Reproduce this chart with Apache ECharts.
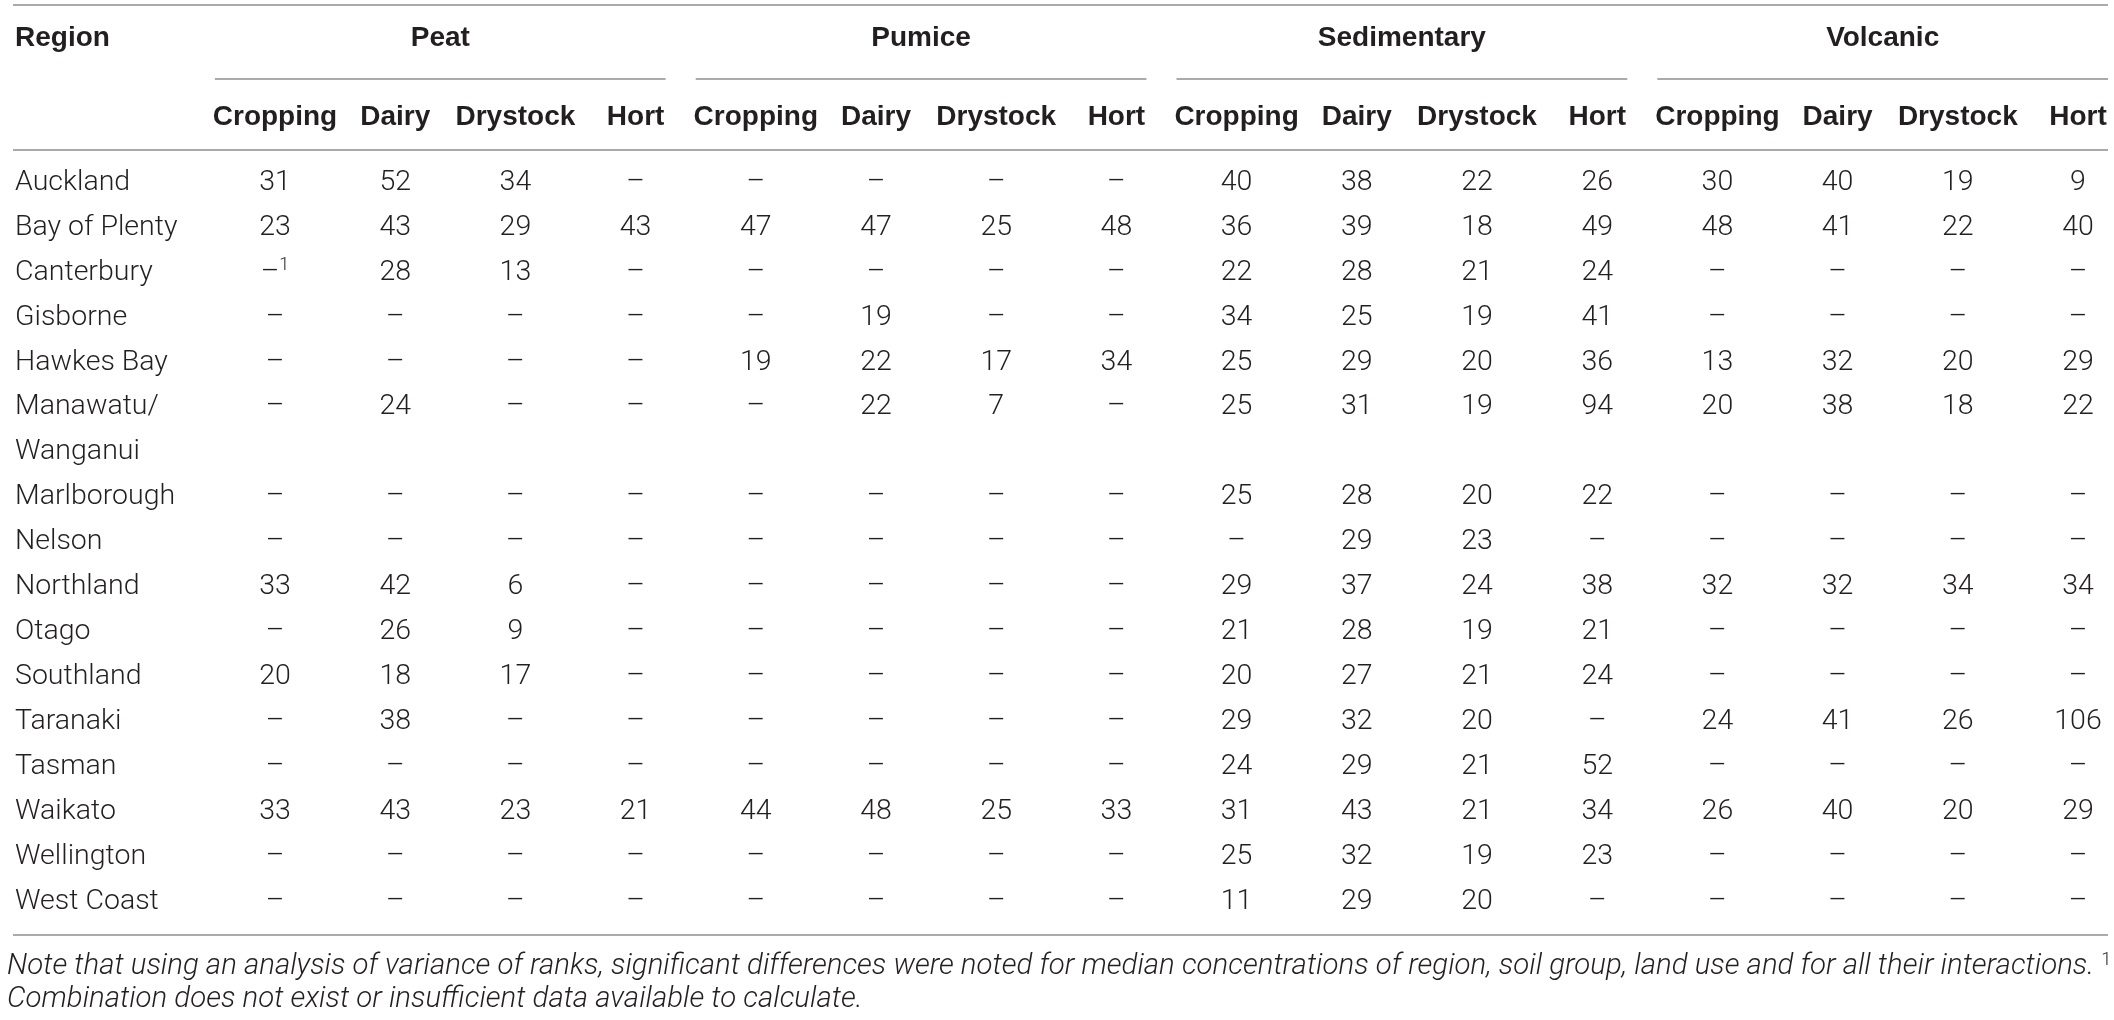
<!DOCTYPE html>
<html>
<head>
<meta charset="utf-8">
<script src="https://cdn.jsdelivr.net/npm/echarts@6/dist/echarts.min.js"></script>
<style>
html,body{margin:0;padding:0;background:#fff;}
#chart{width:2114px;height:1020px;}
</style>
</head>
<body>
<div id="chart"></div>
<script>
// ---------- data ----------
const soilGroups = ['Peat', 'Pumice', 'Sedimentary', 'Volcanic'];
const landUses = ['Cropping', 'Dairy', 'Drystock', 'Hort'];
const regions = ['Auckland', 'Bay of Plenty', 'Canterbury', 'Gisborne', 'Hawkes Bay',
  'Manawatu/\nWanganui', 'Marlborough', 'Nelson', 'Northland', 'Otago', 'Southland',
  'Taranaki', 'Tasman', 'Waikato', 'Wellington', 'West Coast'];
// values per soil group: [Cropping, Dairy, Drystock, Hort]; null = no data (–)
const peat = [
  [31, 52, 34, null], [23, 43, 29, 43], [null, 28, 13, null], [null, null, null, null],
  [null, null, null, null], [null, 24, null, null], [null, null, null, null], [null, null, null, null],
  [33, 42, 6, null], [null, 26, 9, null], [20, 18, 17, null], [null, 38, null, null],
  [null, null, null, null], [33, 43, 23, 21], [null, null, null, null], [null, null, null, null]
];
const pumice = [
  [null, null, null, null], [47, 47, 25, 48], [null, null, null, null], [null, 19, null, null],
  [19, 22, 17, 34], [null, 22, 7, null], [null, null, null, null], [null, null, null, null],
  [null, null, null, null], [null, null, null, null], [null, null, null, null], [null, null, null, null],
  [null, null, null, null], [44, 48, 25, 33], [null, null, null, null], [null, null, null, null]
];
const sedimentary = [
  [40, 38, 22, 26], [36, 39, 18, 49], [22, 28, 21, 24], [34, 25, 19, 41],
  [25, 29, 20, 36], [25, 31, 19, 94], [25, 28, 20, 22], [null, 29, 23, null],
  [29, 37, 24, 38], [21, 28, 19, 21], [20, 27, 21, 24], [29, 32, 20, null],
  [24, 29, 21, 52], [31, 43, 21, 34], [25, 32, 19, 23], [11, 29, 20, null]
];
const volcanic = [
  [30, 40, 19, 9], [48, 41, 22, 40], [null, null, null, null], [null, null, null, null],
  [13, 32, 20, 29], [20, 38, 18, 22], [null, null, null, null], [null, null, null, null],
  [32, 32, 34, 34], [null, null, null, null], [null, null, null, null], [24, 41, 26, 106],
  [null, null, null, null], [26, 40, 20, 29], [null, null, null, null], [null, null, null, null]
];
const footnotes = [{ region: 'Canterbury', group: 'Peat', use: 'Cropping', mark: '1' }];
const noteLine1 = 'Note that using an analysis of variance of ranks, significant differences were noted for median concentrations of region, soil group, land use and for all their interactions. ';
const noteLine2 = 'Combination does not exist or insufficient data available to calculate.';

// ---------- styles ----------
const TEXT = '#231f20';
const RULE = '#8e8e8e';
const BODY_FONT = '300 28.5px Roboto';
const HEAD_FONT = 'bold 28px "Liberation Sans"';
const NOTE_FONT = 'italic 300 29px Roboto';
const SUP_STYLE = { font: '300 18px Roboto', fill: TEXT, verticalAlign: 'top', padding: [0, 0, 14, 0] };

// ---------- build table structure ----------
const groupData = { Peat: peat, Pumice: pumice, Sedimentary: sedimentary, Volcanic: volcanic };
const columns = [];
soilGroups.forEach(g => landUses.forEach(u => columns.push(g + '|' + u)));
const lines = [];
const regionSlot = [];
regions.forEach(r => {
  regionSlot.push(lines.length);
  r.split('\n').forEach((ln, k) => lines.push(k === 0 ? ln : ln + '\u200b'));
});

const cells = [];
regions.forEach((r, ri) => {
  soilGroups.forEach((g, gi) => {
    landUses.forEach((u, ui) => {
      const v = groupData[g][ri][ui];
      let text = v == null ? '\u2013' : String(v);
      footnotes.forEach(f => {
        if (f.region === r && f.group === g && f.use === u) text += '{sup|' + f.mark + '}';
      });
      cells.push({ value: [gi * 4 + ui, regionSlot[ri]], text: text });
    });
  });
});

const chart = echarts.init(document.getElementById('chart'), null, { renderer: 'canvas' });
const GRID_TOP = 182.5;
const option = {
  animation: false,
  grid: { left: 275, right: 36, top: GRID_TOP, bottom: 118, containLabel: false },
  xAxis: {
    type: 'category', data: columns, position: 'top', boundaryGap: false,
    axisLine: { show: false }, axisTick: { show: false }, splitLine: { show: false },
    axisLabel: {
      interval: 0, margin: 65, verticalAlign: 'middle', color: TEXT,
      fontFamily: 'Liberation Sans', fontWeight: 'bold', fontSize: 28,
      formatter: v => v.split('|')[1]
    }
  },
  yAxis: {
    type: 'category', data: lines, inverse: true, boundaryGap: false,
    axisLine: { show: false }, axisTick: { show: false }, splitLine: { show: false },
    axisLabel: {
      interval: 0, margin: 260, align: 'left', verticalAlign: 'middle', color: TEXT,
      fontFamily: 'Roboto', fontWeight: 300, fontSize: 28.5,
      formatter: v => v.replace('\u200b', '')
    }
  },
  series: [
    {
      type: 'custom', name: 'cells', silent: true,
      data: cells.map(c => c.value),
      renderItem: function (params, api) {
        const p = api.coord([api.value(0), api.value(1)]);
        return {
          type: 'text', x: p[0], y: p[1],
          style: {
            text: cells[params.dataIndex].text, align: 'center', verticalAlign: 'middle',
            font: BODY_FONT, fill: TEXT, rich: { sup: SUP_STYLE }
          }
        };
      }
    },
    {
      type: 'custom', name: 'groups', silent: true,
      data: soilGroups.map((g, gi) => [gi * 4, 0]),
      renderItem: function (params, api) {
        const gi = params.dataIndex;
        const p0 = api.coord([gi * 4, 0]);
        const p3 = api.coord([gi * 4 + 3, 0]);
        const band = api.coord([1, 0])[0] - api.coord([0, 0])[0];
        const x1 = p0[0] - band / 2;
        const x2 = p3[0] + band * 0.25;
        const yLine = p0[1] - 103.5;
        return {
          type: 'group',
          children: [
            { type: 'line', shape: { x1: x1, y1: yLine, x2: x2, y2: yLine }, style: { stroke: RULE, lineWidth: 1.5 } },
            { type: 'text', x: (x1 + x2) / 2, y: p0[1] - 144,
              style: { text: soilGroups[gi], align: 'center', verticalAlign: 'middle', font: HEAD_FONT, fill: TEXT } }
          ]
        };
      }
    }
  ],
  graphic: [
    { type: 'line', shape: { x1: 13, y1: 5, x2: 2108, y2: 5 }, style: { stroke: RULE, lineWidth: 1.5 }, silent: true },
    { type: 'line', shape: { x1: 13, y1: 150, x2: 2108, y2: 150 }, style: { stroke: RULE, lineWidth: 1.5 }, silent: true },
    { type: 'line', shape: { x1: 13, y1: 935, x2: 2108, y2: 935 }, style: { stroke: RULE, lineWidth: 1.5 }, silent: true },
    { type: 'text', x: 15, y: 38.5, style: { text: 'Region', font: HEAD_FONT, fill: TEXT, verticalAlign: 'middle', align: 'left' }, silent: true },
    { type: 'text', x: 7, y: 967, scaleX: 1.014, silent: true,
      style: { text: noteLine1 + '{sup|1}', font: NOTE_FONT, fill: TEXT, verticalAlign: 'middle', align: 'left',
        rich: { sup: SUP_STYLE } } },
    { type: 'text', x: 7, y: 1000, scaleX: 1.014, silent: true,
      style: { text: noteLine2, font: NOTE_FONT, fill: TEXT, verticalAlign: 'middle', align: 'left' } }
  ]
};
chart.setOption(option);
</script>
</body>
</html>
